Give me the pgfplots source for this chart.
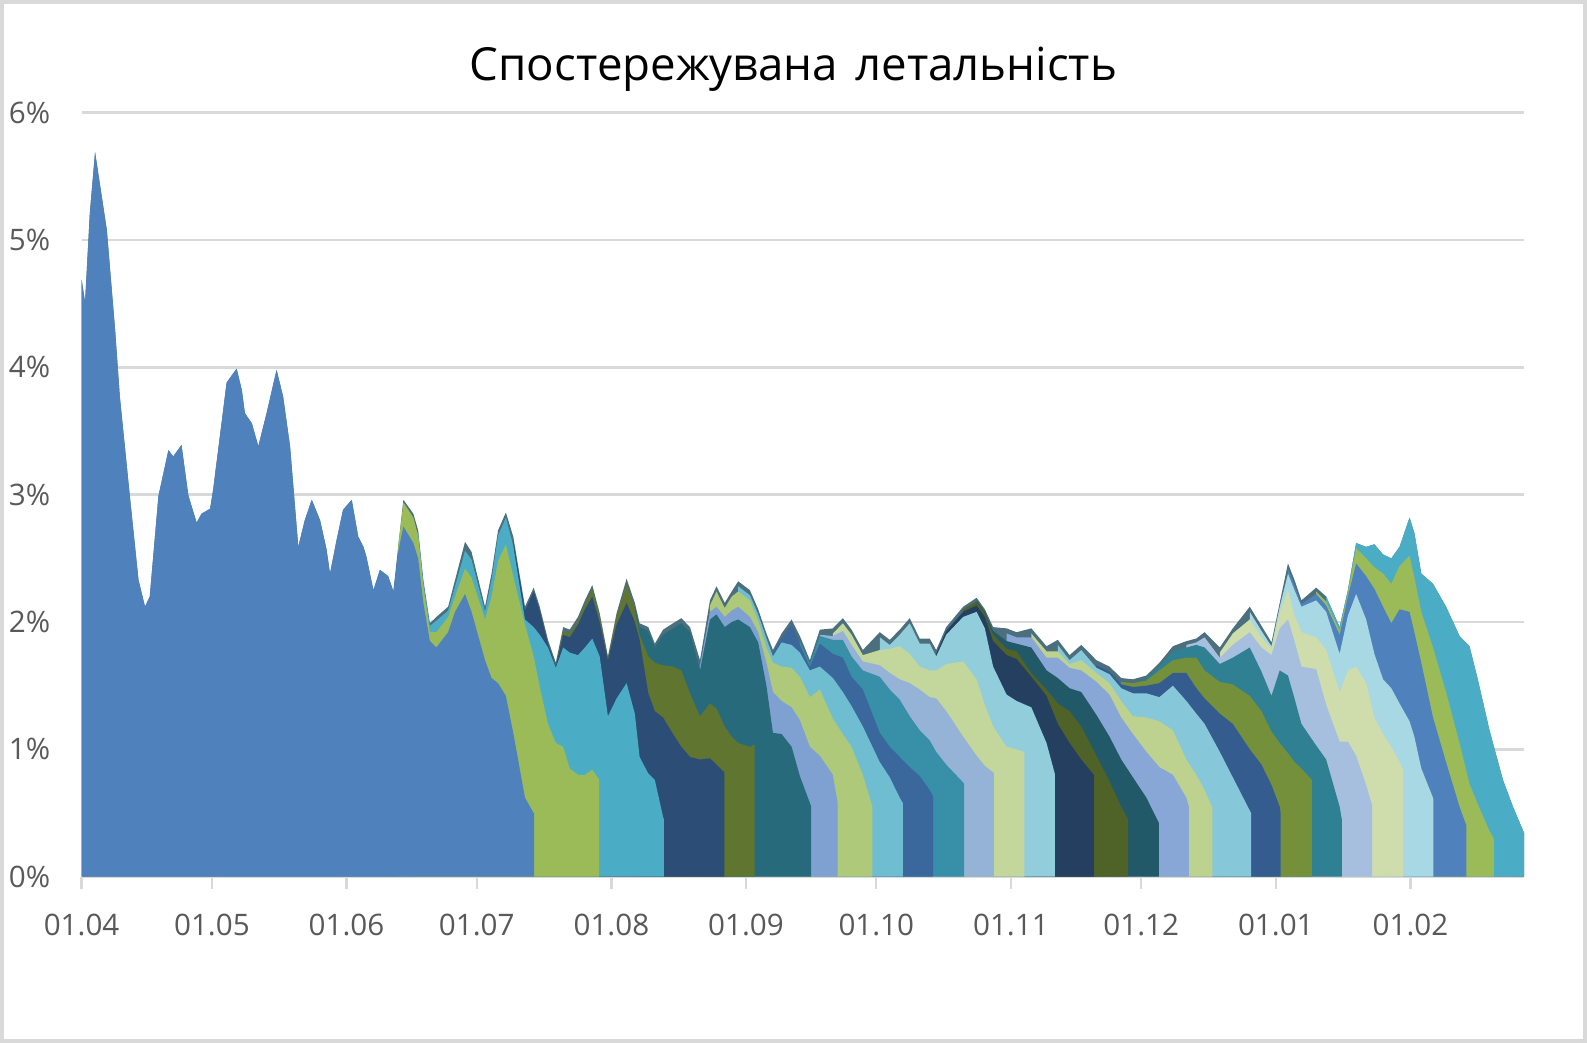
\documentclass[border=0pt]{standalone}
\usepackage{pgfplots}
\pgfplotsset{compat=1.18}
\usepackage{fontspec}
\setmainfont{Open Sans}
\definecolor{c1}{HTML}{4F81BD}
\definecolor{c2}{HTML}{9BBB59}
\definecolor{c3}{HTML}{4BACC6}
\definecolor{c4}{HTML}{2C4D75}
\definecolor{c5}{HTML}{5F7530}
\definecolor{c6}{HTML}{276A7C}
\definecolor{c7}{HTML}{7EA1D2}
\definecolor{c8}{HTML}{AFC97A}
\definecolor{c9}{HTML}{6FBDD1}
\definecolor{c10}{HTML}{3A679C}
\definecolor{c11}{HTML}{3790A7}
\definecolor{c12}{HTML}{95B3D7}
\definecolor{c13}{HTML}{C3D69B}
\definecolor{c14}{HTML}{92CDDC}
\definecolor{c15}{HTML}{243F60}
\definecolor{c16}{HTML}{4F6228}
\definecolor{c17}{HTML}{215968}
\definecolor{c18}{HTML}{89A7D6}
\definecolor{c19}{HTML}{BDD28E}
\definecolor{c20}{HTML}{86C7D9}
\definecolor{c21}{HTML}{355C8F}
\definecolor{c22}{HTML}{74903B}
\definecolor{c23}{HTML}{2F8093}
\definecolor{c24}{HTML}{A7BFDF}
\definecolor{c25}{HTML}{CFDDAC}
\definecolor{c26}{HTML}{A8D8E4}
\definecolor{c27}{HTML}{4F81BD}
\definecolor{c28}{HTML}{9BBB59}
\definecolor{c29}{HTML}{4BACC6}
\definecolor{env}{HTML}{4B6F7D}
\definecolor{gridc}{HTML}{D9D9D9}
\definecolor{tickc}{HTML}{595959}
\begin{document}
\begin{tikzpicture}
\path[use as bounding box] (0pt,0pt) rectangle (793.5pt,521.5pt);
\fill[white] (0pt,0pt) rectangle (793.5pt,521.5pt);
\draw[gridc, line width=1.8pt] (0.9pt,0.9pt) rectangle (792.6pt,520.6pt);
\node[font=\fontsize{22.8}{27}\selectfont, text=black] at (396.75pt,487pt) {Спостережувана\hspace{0.12em} летальність};
\begin{axis}[
  at={(40.8pt,83.15pt)}, anchor=south west,
  scale only axis, width=721.3pt, height=382pt,
  xmin=0, xmax=332.2, ymin=0, ymax=6,
  axis x line*=bottom, axis y line*=left,
  x axis line style={draw=gridc, line width=1.3pt},
  y axis line style={draw=none},
  xtick={0,30,61,91,122,153,183,214,244,275,306},
  xticklabels={01.04,01.05,01.06,01.07,01.08,01.09,01.10,01.11,01.12,01.01,01.02},
  ytick={0,1,2,3,4,5,6},
  yticklabels={0\%,1\%,2\%,3\%,4\%,5\%,6\%},
  ymajorgrids, grid style={draw=gridc, line width=1.3pt},
  tick align=outside, major tick length=6pt,
  xtick style={draw=gridc, line width=1.2pt},
  ytick style={draw=none},
  ticklabel style={font=\fontsize{14.8}{17}\selectfont, text=tickc},
  xticklabel style={anchor=north, inner sep=0pt, yshift=-12.6pt},
  yticklabel style={anchor=east, inner sep=0pt, xshift=-9.5pt},
]
% envelope
\addplot[draw=none, fill=env] coordinates {(0,4.69)(0.8,4.51)(1.9,5.21)(3.1,5.69)(5.8,5.08)(7.7,4.30)(8.8,3.77)(11.1,2.99)(13.1,2.33)(14.6,2.12)(15.7,2.20)(17.7,2.99)(20.0,3.35)(21.1,3.30)(23.0,3.39)(24.6,2.99)(26.5,2.78)(27.6,2.85)(29.6,2.89)(30.3,3.04)(33.4,3.88)(35.7,3.99)(36.9,3.82)(37.6,3.64)(39.2,3.56)(40.7,3.38)(42.6,3.64)(44.9,3.98)(46.4,3.77)(48.0,3.38)(49.9,2.59)(51.4,2.80)(53.0,2.96)(54.9,2.80)(56.4,2.57)(57.2,2.38)(58.7,2.64)(60.2,2.88)(62.2,2.96)(63.7,2.67)(64.9,2.59)(65.6,2.51)(67.2,2.25)(68.7,2.41)(70.6,2.36)(71.8,2.24)(72.9,2.59)(74.1,2.96)(76.4,2.85)(77.5,2.72)(78.7,2.33)(80.2,1.99)(81.7,2.04)(84.4,2.12)(86.0,2.33)(88.3,2.63)(89.8,2.55)(92.9,2.12)(94.4,2.38)(95.9,2.72)(97.7,2.86)(99.4,2.67)(102.1,2.12)(104.1,2.27)(105.5,2.12)(107.4,1.86)(109.2,1.68)(110.9,1.96)(112.4,1.94)(114.3,2.04)(115.9,2.17)(117.6,2.29)(119.3,2.07)(121.2,1.73)(123.2,2.07)(125.5,2.34)(127.4,2.15)(128.5,1.99)(130.5,1.96)(132.0,1.83)(133.9,1.94)(136.2,1.99)(138.1,2.03)(140.1,1.96)(142.4,1.70)(144.7,2.17)(146.2,2.28)(148.1,2.15)(149.7,2.24)(151.2,2.32)(153.9,2.25)(155.8,2.10)(157.7,1.91)(159.2,1.78)(161.2,1.91)(163.5,2.02)(165.4,1.89)(167.7,1.70)(170.0,1.94)(173.0,1.95)(175.3,2.03)(177.3,1.94)(179.9,1.78)(183.8,1.92)(186.1,1.86)(188.4,1.94)(190.7,2.03)(193.0,1.87)(195.3,1.87)(196.8,1.78)(199.1,1.96)(203.0,2.12)(206.1,2.19)(208.0,2.10)(209.9,1.96)(213.0,1.95)(215.3,1.92)(218.7,1.95)(222.2,1.81)(224.8,1.86)(227.5,1.74)(230.2,1.82)(233.7,1.70)(236.7,1.65)(239.4,1.56)(242.1,1.55)(245.2,1.58)(248.2,1.68)(251.3,1.81)(254.4,1.85)(256.7,1.87)(258.6,1.92)(262.1,1.80)(265.1,1.95)(269.0,2.12)(271.7,1.97)(274.0,1.84)(275.9,2.15)(277.8,2.46)(279.3,2.33)(280.9,2.17)(284.3,2.27)(286.6,2.20)(289.7,1.96)(291.6,2.25)(293.5,2.62)(295.8,2.59)(297.7,2.61)(299.7,2.53)(301.6,2.50)(303.5,2.59)(305.8,2.82)(306.9,2.70)(308.5,2.38)(311.2,2.30)(314.2,2.12)(317.3,1.89)(319.6,1.81)(321.5,1.55)(324.2,1.15)(327.3,0.76)(329.6,0.55)(332.2,0.34)} \closedcycle;
% series 29 .. 1 (cumulative tops)
\addplot[draw=none, fill=c29] coordinates {(286.6,2.20)(289.7,1.96)(291.6,2.25)(293.5,2.62)(295.8,2.59)(297.7,2.61)(299.7,2.53)(301.6,2.50)(303.5,2.59)(305.8,2.82)(306.9,2.70)(308.5,2.38)(311.2,2.30)(314.2,2.12)(317.3,1.89)(319.6,1.81)(321.5,1.55)(324.2,1.15)(327.3,0.76)(329.6,0.55)(332.2,0.34)} \closedcycle;
\addplot[draw=none, fill=c28] coordinates {(284.3,2.24)(286.6,2.16)(289.7,1.93)(291.6,2.23)(293.5,2.58)(295.8,2.50)(297.7,2.43)(299.7,2.38)(301.6,2.30)(303.5,2.44)(305.8,2.52)(306.9,2.35)(308.5,2.08)(311.2,1.80)(314.2,1.45)(317.3,1.05)(319.6,0.73)(321.5,0.57)(324.2,0.36)(325.2,0.30)} \closedcycle;
\addplot[draw=none, fill=c27] coordinates {(277.8,2.42)(279.3,2.29)(280.9,2.14)(284.3,2.22)(286.6,2.13)(289.7,1.90)(291.6,2.20)(293.5,2.46)(295.8,2.36)(297.7,2.26)(299.7,2.12)(301.6,1.99)(303.5,2.10)(305.8,2.08)(306.9,1.92)(308.5,1.68)(311.2,1.25)(314.2,0.90)(317.3,0.55)(318.9,0.40)} \closedcycle;
\addplot[draw=none, fill=c26] coordinates {(269.0,2.08)(271.7,1.93)(274.0,1.81)(275.9,2.12)(277.8,2.38)(279.3,2.25)(280.9,2.12)(284.3,2.17)(286.6,2.08)(289.7,1.75)(291.6,2.05)(293.5,2.22)(295.8,2.02)(297.7,1.75)(299.7,1.55)(301.6,1.48)(303.5,1.36)(305.8,1.22)(306.9,1.10)(308.5,0.85)(311.2,0.62)(311.3,0.60)} \closedcycle;
\addplot[draw=none, fill=c25] coordinates {(262.1,1.76)(265.1,1.91)(269.0,2.02)(271.7,1.88)(274.0,1.79)(275.9,2.08)(277.8,2.25)(279.3,2.05)(280.9,1.92)(284.3,1.88)(286.6,1.78)(289.7,1.45)(291.6,1.62)(293.5,1.65)(295.8,1.52)(297.7,1.25)(299.7,1.12)(301.6,1.02)(303.5,0.90)(304.3,0.84)} \closedcycle;
\addplot[draw=none, fill=c24] coordinates {(254.4,1.82)(256.7,1.84)(258.6,1.88)(262.1,1.72)(265.1,1.82)(269.0,1.92)(271.7,1.80)(274.0,1.74)(275.9,1.95)(277.8,2.02)(279.3,1.85)(280.9,1.65)(284.3,1.63)(286.6,1.35)(289.7,1.06)(291.6,1.06)(293.5,0.95)(295.8,0.72)(297.2,0.56)} \closedcycle;
\addplot[draw=none, fill=c23] coordinates {(245.2,1.56)(248.2,1.65)(251.3,1.77)(254.4,1.80)(256.7,1.82)(258.6,1.80)(262.1,1.67)(265.1,1.72)(269.0,1.80)(271.7,1.61)(274.0,1.42)(275.9,1.62)(277.8,1.58)(279.3,1.40)(280.9,1.20)(284.3,1.03)(286.6,0.92)(289.7,0.55)(290.2,0.45)} \closedcycle;
\addplot[draw=none, fill=c22] coordinates {(239.4,1.53)(242.1,1.52)(245.2,1.54)(248.2,1.62)(251.3,1.70)(254.4,1.72)(256.7,1.72)(258.6,1.62)(262.1,1.53)(265.1,1.51)(269.0,1.42)(271.7,1.30)(274.0,1.14)(275.9,1.05)(277.8,0.97)(279.3,0.90)(280.9,0.85)(283.3,0.76)} \closedcycle;
\addplot[draw=none, fill=c21] coordinates {(233.7,1.66)(236.7,1.61)(239.4,1.51)(242.1,1.49)(245.2,1.50)(248.2,1.52)(251.3,1.60)(254.4,1.60)(256.7,1.48)(258.6,1.40)(262.1,1.28)(265.1,1.20)(269.0,1.00)(271.7,0.88)(274.0,0.72)(275.9,0.55)(276.1,0.50)} \closedcycle;
\addplot[draw=none, fill=c20] coordinates {(224.8,1.82)(227.5,1.70)(230.2,1.78)(233.7,1.64)(236.7,1.59)(239.4,1.48)(242.1,1.44)(245.2,1.44)(248.2,1.41)(251.3,1.50)(254.4,1.38)(256.7,1.28)(258.6,1.20)(262.1,0.98)(265.1,0.78)(269.0,0.52)(269.3,0.50)} \closedcycle;
\addplot[draw=none, fill=c19] coordinates {(218.7,1.91)(222.2,1.77)(224.8,1.77)(227.5,1.67)(230.2,1.70)(233.7,1.60)(236.7,1.52)(239.4,1.38)(242.1,1.26)(245.2,1.25)(248.2,1.22)(251.3,1.15)(254.4,0.92)(256.7,0.80)(258.6,0.68)(260.4,0.54)} \closedcycle;
\addplot[draw=none, fill=c18] coordinates {(213.0,1.91)(215.3,1.88)(218.7,1.88)(222.2,1.72)(224.8,1.72)(227.5,1.64)(230.2,1.62)(233.7,1.53)(236.7,1.43)(239.4,1.25)(242.1,1.12)(245.2,0.98)(248.2,0.86)(251.3,0.80)(254.4,0.62)(255.0,0.55)} \closedcycle;
\addplot[draw=none, fill=c17] coordinates {(206.1,2.17)(208.0,2.08)(209.9,1.93)(213.0,1.85)(215.3,1.83)(218.7,1.80)(222.2,1.62)(224.8,1.56)(227.5,1.48)(230.2,1.45)(233.7,1.27)(236.7,1.10)(239.4,0.92)(242.1,0.78)(245.2,0.62)(248.1,0.42)} \closedcycle;
\addplot[draw=none, fill=c16] coordinates {(203.0,2.10)(206.1,2.16)(208.0,2.07)(209.9,1.90)(213.0,1.79)(215.3,1.77)(218.7,1.60)(222.2,1.47)(224.8,1.36)(227.5,1.30)(230.2,1.18)(233.7,0.95)(236.7,0.75)(239.4,0.55)(241.0,0.45)} \closedcycle;
\addplot[draw=none, fill=c15] coordinates {(196.8,1.75)(199.1,1.93)(203.0,2.08)(206.1,2.13)(208.0,2.04)(209.9,1.85)(213.0,1.74)(215.3,1.71)(218.7,1.57)(222.2,1.42)(224.8,1.20)(227.5,1.05)(230.2,0.92)(233.1,0.80)} \closedcycle;
\addplot[draw=none, fill=c14] coordinates {(183.8,1.88)(186.1,1.82)(188.4,1.90)(190.7,1.99)(193.0,1.83)(195.3,1.83)(196.8,1.73)(199.1,1.90)(203.0,2.04)(206.1,2.08)(208.0,1.95)(209.9,1.65)(213.0,1.43)(215.3,1.38)(218.7,1.33)(222.2,1.05)(224.1,0.81)} \closedcycle;
\addplot[draw=none, fill=c13] coordinates {(173.0,1.91)(175.3,1.99)(177.3,1.90)(179.9,1.74)(183.8,1.78)(186.1,1.79)(188.4,1.81)(190.7,1.75)(193.0,1.65)(195.3,1.62)(196.8,1.62)(199.1,1.67)(203.0,1.69)(206.1,1.55)(208.0,1.35)(209.9,1.18)(213.0,1.02)(215.3,1.00)(217.1,0.98)} \closedcycle;
\addplot[draw=none, fill=c12] coordinates {(170.0,1.90)(173.0,1.89)(175.3,1.93)(177.3,1.82)(179.9,1.69)(183.8,1.66)(186.1,1.60)(188.4,1.55)(190.7,1.52)(193.0,1.47)(195.3,1.41)(196.8,1.40)(199.1,1.30)(203.0,1.10)(206.1,0.95)(208.0,0.87)(209.9,0.82)(210.1,0.81)} \closedcycle;
\addplot[draw=none, fill=c11] coordinates {(165.4,1.85)(167.7,1.67)(170.0,1.89)(173.0,1.86)(175.3,1.86)(177.3,1.73)(179.9,1.62)(183.8,1.57)(186.1,1.47)(188.4,1.39)(190.7,1.26)(193.0,1.15)(195.3,1.07)(196.8,0.98)(199.1,0.88)(203.0,0.74)(203.2,0.73)} \closedcycle;
\addplot[draw=none, fill=c10] coordinates {(159.2,1.75)(161.2,1.87)(163.5,1.98)(165.4,1.82)(167.7,1.65)(170.0,1.83)(173.0,1.75)(175.3,1.72)(177.3,1.57)(179.9,1.47)(183.8,1.13)(186.1,1.02)(188.4,0.94)(190.7,0.86)(193.0,0.79)(195.3,0.68)(196.1,0.63)} \closedcycle;
\addplot[draw=none, fill=c9] coordinates {(151.2,2.28)(153.9,2.21)(155.8,2.06)(157.7,1.87)(159.2,1.73)(161.2,1.84)(163.5,1.82)(165.4,1.76)(167.7,1.62)(170.0,1.65)(173.0,1.56)(175.3,1.45)(177.3,1.34)(179.9,1.18)(183.8,0.90)(186.1,0.78)(188.4,0.62)(189.1,0.58)} \closedcycle;
\addplot[draw=none, fill=c8] coordinates {(144.7,2.13)(146.2,2.24)(148.1,2.11)(149.7,2.20)(151.2,2.24)(153.9,2.17)(155.8,2.01)(157.7,1.80)(159.2,1.68)(161.2,1.65)(163.5,1.64)(165.4,1.57)(167.7,1.41)(170.0,1.47)(173.0,1.24)(175.3,1.12)(177.3,1.02)(179.9,0.80)(182.1,0.55)} \closedcycle;
\addplot[draw=none, fill=c7] coordinates {(142.4,1.66)(144.7,2.08)(146.2,2.12)(148.1,2.04)(149.7,2.09)(151.2,2.12)(153.9,2.04)(155.8,1.92)(157.7,1.68)(159.2,1.45)(161.2,1.38)(163.5,1.33)(165.4,1.23)(167.7,1.02)(170.0,0.95)(173.0,0.80)(174.1,0.58)} \closedcycle;
\addplot[draw=none, fill=c6] coordinates {(127.4,2.12)(128.5,1.96)(130.5,1.93)(132.0,1.80)(133.9,1.90)(136.2,1.95)(138.1,1.99)(140.1,1.92)(142.4,1.62)(144.7,2.02)(146.2,2.06)(148.1,1.96)(149.7,2.00)(151.2,2.02)(153.9,1.96)(155.8,1.84)(157.7,1.50)(159.2,1.13)(161.2,1.12)(163.5,1.02)(165.4,0.79)(167.7,0.58)(168.0,0.55)} \closedcycle;
\addplot[draw=none, fill=c5] coordinates {(109.2,1.66)(110.9,1.93)(112.4,1.91)(114.3,2.01)(115.9,2.14)(117.6,2.26)(119.3,2.04)(121.2,1.71)(123.2,2.04)(125.5,2.30)(127.4,2.10)(128.5,1.90)(130.5,1.73)(132.0,1.68)(133.9,1.66)(136.2,1.65)(138.1,1.62)(140.1,1.44)(142.4,1.26)(144.7,1.36)(146.2,1.32)(148.1,1.18)(149.7,1.10)(151.2,1.05)(153.9,1.02)(155.0,1.04)} \closedcycle;
\addplot[draw=none, fill=c4] coordinates {(99.4,2.64)(102.1,2.09)(104.1,2.24)(105.5,2.09)(107.4,1.83)(109.2,1.65)(110.9,1.90)(112.4,1.88)(114.3,1.98)(115.9,2.10)(117.6,2.20)(119.3,2.00)(121.2,1.70)(123.2,1.98)(125.5,2.15)(127.4,2.00)(128.5,1.86)(130.5,1.44)(132.0,1.30)(133.9,1.25)(136.2,1.12)(138.1,1.02)(140.1,0.94)(142.4,0.92)(144.7,0.93)(146.2,0.88)(148.0,0.82)} \closedcycle;
\addplot[draw=none, fill=c3] coordinates {(77.5,2.70)(78.7,2.31)(80.2,1.97)(81.7,2.01)(84.4,2.09)(86.0,2.28)(88.3,2.56)(89.8,2.49)(92.9,2.08)(94.4,2.33)(95.9,2.68)(97.7,2.82)(99.4,2.60)(102.1,2.02)(104.1,1.96)(105.5,1.90)(107.4,1.80)(109.2,1.64)(110.9,1.80)(112.4,1.76)(114.3,1.74)(115.9,1.80)(117.6,1.87)(119.3,1.73)(121.2,1.26)(123.2,1.40)(125.5,1.52)(127.4,1.28)(128.5,0.94)(130.5,0.81)(132.0,0.76)(133.9,0.47)(134.1,0.45)} \closedcycle;
\addplot[draw=none, fill=c2] coordinates {(72.9,2.59)(74.1,2.94)(76.4,2.82)(77.5,2.68)(78.7,2.28)(80.2,1.92)(81.7,1.92)(84.4,2.04)(86.0,2.20)(88.3,2.42)(89.8,2.35)(92.9,2.02)(94.4,2.20)(95.9,2.48)(97.7,2.61)(99.4,2.36)(102.1,1.98)(104.1,1.73)(105.5,1.49)(107.4,1.20)(109.2,1.05)(110.9,1.02)(112.4,0.85)(114.3,0.80)(115.9,0.80)(117.6,0.84)(119.2,0.76)} \closedcycle;
\addplot[draw=none, fill=c1] coordinates {(0,4.69)(0.8,4.51)(1.9,5.21)(3.1,5.69)(5.8,5.08)(7.7,4.30)(8.8,3.77)(11.1,2.99)(13.1,2.33)(14.6,2.12)(15.7,2.20)(17.7,2.99)(20.0,3.35)(21.1,3.30)(23.0,3.39)(24.6,2.99)(26.5,2.78)(27.6,2.85)(29.6,2.89)(30.3,3.04)(33.4,3.88)(35.7,3.99)(36.9,3.82)(37.6,3.64)(39.2,3.56)(40.7,3.38)(42.6,3.64)(44.9,3.98)(46.4,3.77)(48.0,3.38)(49.9,2.59)(51.4,2.80)(53.0,2.96)(54.9,2.80)(56.4,2.57)(57.2,2.38)(58.7,2.64)(60.2,2.88)(62.2,2.96)(63.7,2.67)(64.9,2.59)(65.6,2.51)(67.2,2.25)(68.7,2.41)(70.6,2.36)(71.8,2.24)(72.9,2.55)(74.1,2.75)(76.4,2.62)(77.5,2.50)(78.7,2.15)(80.2,1.85)(81.7,1.80)(84.4,1.92)(86.0,2.08)(88.3,2.22)(89.8,2.08)(92.9,1.70)(94.4,1.56)(95.9,1.52)(97.7,1.42)(99.4,1.13)(102.1,0.62)(104.1,0.50)(104.2,0.50)} \closedcycle;
\end{axis}
\end{tikzpicture}
\end{document}
